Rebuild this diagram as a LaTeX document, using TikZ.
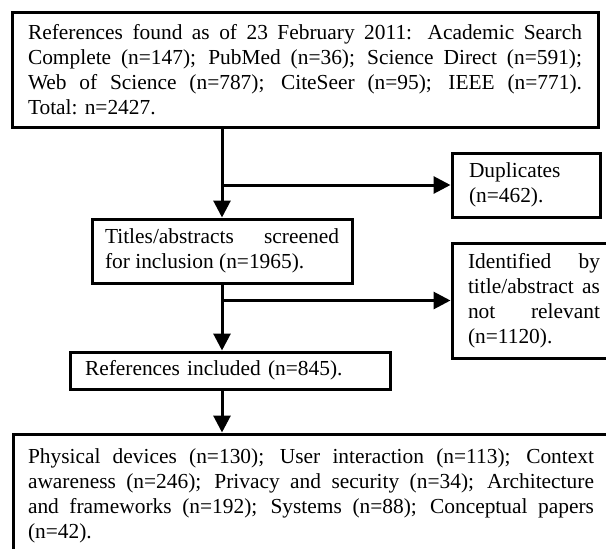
\documentclass[tikz,border=0pt]{standalone}
\usepackage{fontspec}
\setmainfont{Liberation Serif}
\usetikzlibrary{arrows.meta}
\tolerance=10000
\hyphenpenalty=10000
\begin{document}
\begin{tikzpicture}[x=1pt,y=-1pt,
  box/.style={draw, line width=3pt, inner ysep=0pt,
    font=\fontsize{21.4}{25}\selectfont},
  arr/.style={line width=3pt, -{Triangle[length=17pt,width=17pt]}}]
\useasboundingbox (0,0) rectangle (606,549);
\clip (0,0) rectangle (606,549);
\node[box, align=justify, text width=554pt, inner xsep=16pt, minimum height=115pt] (top) at (305,69.5)
  {References found as of 23 February 2011: Academic Search\linebreak Complete (n=147); PubMed (n=36); Science Direct (n=591);\linebreak Web of Science (n=787); CiteSeer (n=95); IEEE (n=771).\linebreak Total: n=2427.};
\node[box, align=left, text width=114pt, inner xsep=17pt, minimum height=64pt] (dup) at (526,185)
  {Duplicates\\ (n=462).};
\node[box, align=justify, text width=234pt, inner xsep=13pt, minimum height=64pt] (titles) at (222,251)
  {Titles/abstracts screened\linebreak for inclusion (n=1965).};
\node[box, align=justify, text width=132pt, inner xsep=16pt, minimum height=115pt] (ident) at (534,300.5)
  {Identified by\linebreak title/abstract as\linebreak not relevant\linebreak (n=1120).};
\node[box, align=left, text width=290pt, inner xsep=15pt, minimum height=37pt] (incl) at (230,370.5)
  {References included (n=845).};
\node[box, align=justify, text width=566pt, inner xsep=15pt, minimum height=124pt] (cats) at (311,496)
  {Physical devices (n=130); User interaction (n=113); Context\linebreak awareness (n=246); Privacy and security (n=34); Architecture\linebreak and frameworks (n=192); Systems (n=88); Conceptual papers\linebreak (n=42).};
\coordinate (b1) at (titles.north |- dup.west);
\coordinate (b2) at (titles.south |- ident.west);
\draw[arr] (titles.north |- top.south) -- (titles.north);
\draw[arr] (b1) -- (dup.west);
\draw[arr] (titles.south) -- (titles.south |- incl.north);
\draw[arr] (b2) -- (ident.west);
\draw[arr] (titles.south |- incl.south) -- (titles.south |- cats.north);
\end{tikzpicture}
\end{document}
